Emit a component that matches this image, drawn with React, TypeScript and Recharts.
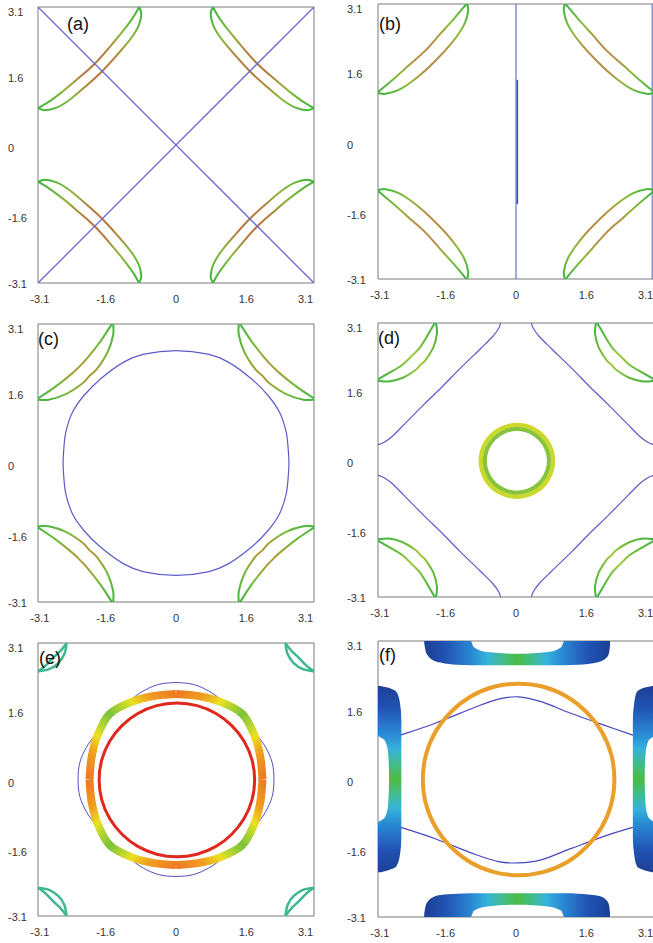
import React from 'react';
import { ComposedChart, Line, Area, XAxis, YAxis, ReferenceArea } from 'recharts';

type P = [number, number];

const PI = 3.1416;
const TICKS = [-3.1, -1.6, 0, 1.6, 3.1];
const PANEL_LABELS = ['(a)', '(b)', '(c)', '(d)', '(e)', '(f)'];
const FONT = '"Liberation Sans", Arial, Helvetica, sans-serif';

// ---------- (a) ----------
const A_DIAG_1: P[] = [[-PI, -PI], [0, 0], [PI, PI]];
const A_DIAG_2: P[] = [[-PI, PI], [0, 0], [PI, -PI]];
const A_LENS_UPPER: P[] = [[-3.14, 0.84], [-2.9, 0.98], [-2.59, 1.21], [-2.29, 1.46], [-1.85, 1.85], [-1.46, 2.29], [-1.21, 2.59], [-0.98, 2.9], [-0.84, 3.14]];
const A_LENS_LOWER: P[] = [[-3.14, 0.84], [-2.99, 0.79], [-2.72, 0.85], [-2.42, 1.03], [-2.04, 1.35], [-1.68, 1.68], [-1.35, 2.04], [-1.03, 2.42], [-0.85, 2.72], [-0.79, 2.99], [-0.84, 3.14]];

// ---------- (b) ----------
const B_LENS_UPPER: P[] = [[-3.14, 1.13], [-2.82, 1.4], [-2.44, 1.74], [-2.07, 2.07], [-1.74, 2.44], [-1.4, 2.82], [-1.13, 3.14]];
const B_LENS_LOWER: P[] = [[-3.14, 1.11], [-2.97, 1.09], [-2.67, 1.18], [-2.28, 1.44], [-1.84, 1.84], [-1.44, 2.28], [-1.18, 2.67], [-1.09, 2.97], [-1.11, 3.14]];
const B_VLINE: P[] = [[0, -PI], [0, PI]];
const B_VTHICK: P[] = [[0.03, -1.43], [0.03, 1.41]];
const B_EDGE: P[] = [[3.1, -PI], [3.1, PI]];

// ---------- (c) ----------
const C_LENS_UPPER: P[] = [[-3.14, 1.46], [-2.75, 1.72], [-2.37, 2.02], [-2.19, 2.19], [-2.02, 2.37], [-1.72, 2.75], [-1.46, 3.14]];
const C_LENS_LOWER: P[] = [[-3.14, 1.43], [-2.9, 1.43], [-2.52, 1.55], [-2.14, 1.79], [-1.97, 1.97], [-1.79, 2.14], [-1.55, 2.52], [-1.43, 2.9], [-1.43, 3.14]];
const C_BLUE_QUARTER: P[] = [[0, 2.54], [-0.73, 2.46], [-1.19, 2.28], [-1.72, 1.9], [-2.1, 1.52], [-2.36, 1.14], [-2.51, 0.69], [-2.56, 0.24], [-2.57, 0]];

// ---------- (d) ----------
const D_LENS_UPPER: P[] = [[-3.14, 1.85], [-2.9, 1.99], [-2.59, 2.18], [-2.38, 2.38], [-2.18, 2.59], [-1.99, 2.9], [-1.85, 3.14]];
const D_LENS_LOWER: P[] = [[-3.14, 1.82], [-2.9, 1.8], [-2.59, 1.88], [-2.28, 2.07], [-2.18, 2.18], [-2.07, 2.28], [-1.88, 2.59], [-1.8, 2.9], [-1.82, 3.14]];
const D_BLUE_CORNER: P[] = [[-3.14, 0.35], [-3.01, 0.4], [-2.82, 0.54], [-2.55, 0.81], [-2.1, 1.27], [-1.68, 1.68], [-1.27, 2.1], [-0.81, 2.55], [-0.54, 2.82], [-0.4, 3.01], [-0.35, 3.14]];
const D_RING_OUT_Q: P[] = [[0, 0.82], [-0.41, 0.71], [-0.71, 0.41], [-0.82, 0]];
const D_RING_IN_Q: P[] = [[0, 0.73], [-0.365, 0.63], [-0.63, 0.365], [-0.73, 0]];
const D_RING_CENTER: P = [0.02, -0.02];

// ---------- (e) ----------
const E_LENS_OUTER: P[] = [[-3.14, 2.49], [-2.89, 2.54], [-2.68, 2.68], [-2.54, 2.89], [-2.49, 3.14]];
const E_LENS_INNER: P[] = [[-3.14, 2.49], [-2.97, 2.62], [-2.8, 2.8], [-2.62, 2.97], [-2.49, 3.14]];
const E_BLUE_QUARTER: P[] = [[0, 2.23], [-0.39, 2.19], [-0.74, 2.04], [-1.05, 1.82], [-1.46, 1.46], [-1.82, 1.05], [-2.04, 0.74], [-2.19, 0.39], [-2.23, 0]];
const E_RING_QUARTER: P[] = [[0, 1.97], [-0.52, 1.92], [-1.03, 1.78], [-1.51, 1.51], [-1.78, 1.03], [-1.92, 0.52], [-1.97, 0]];
const E_RED_QUARTER: P[] = [[0, 1.77], [-0.46, 1.71], [-0.89, 1.53], [-1.25, 1.25], [-1.53, 0.89], [-1.71, 0.46], [-1.77, 0]];
const E_RED_CENTER: P = [0.02, -0.01];

// ---------- (f) ----------
const F_BLUE_UPPER: P[] = [[-2.62, 1.0], [-1.84, 1.27], [-0.92, 1.64], [-0.4, 1.82], [0.05, 1.87], [0.57, 1.76], [1.26, 1.49], [2.02, 1.22], [2.66, 1.0]];
const F_BLUE_LOWER: P[] = [[-2.62, -1.1], [-1.84, -1.36], [-0.92, -1.72], [-0.4, -1.88], [0.05, -1.91], [0.57, -1.84], [1.26, -1.58], [2.02, -1.3], [2.66, -1.1]];
const F_RING_QUARTER: P[] = [[0, 2.18], [-0.56, 2.11], [-1.09, 1.89], [-1.54, 1.54], [-1.89, 1.09], [-2.11, 0.56], [-2.18, 0]];
const F_RING_CENTER: P = [0.06, -0.01];
const F_X = [-2.09, -2.06, -2.0, -1.9, -1.72, -1.34, -1.03, -0.96, -0.65, 0.04, 0.72, 1.03, 1.1, 1.41, 1.87, 2.06, 2.12, 2.14];
const F_TOP_LO = [3.1, 2.92, 2.8, 2.71, 2.65, 2.6, 2.59, 2.59, 2.59, 2.59, 2.59, 2.59, 2.59, 2.6, 2.66, 2.76, 2.88, 3.05];
const F_TOP_HI = [PI, PI, PI, PI, PI, PI, PI, 3.0, 2.89, 2.85, 2.89, 3.0, PI, PI, PI, PI, PI, PI];
const F_BOT_LO = [-PI, -PI, -PI, -PI, -PI, -PI, -PI, -3.0, -2.9, -2.86, -2.9, -3.0, -PI, -PI, -PI, -PI, -PI, -PI];
const F_BOT_HI = [-3.08, -2.9, -2.78, -2.7, -2.64, -2.61, -2.6, -2.6, -2.6, -2.6, -2.6, -2.6, -2.6, -2.61, -2.66, -2.76, -2.88, -3.05];
const F_Y = [-2.12, -2.09, -2.04, -1.98, -1.72, -1.34, -1.0, -0.88, -0.58, 0.0, 0.58, 0.88, 1.0, 1.34, 1.72, 1.98, 2.04, 2.09, 2.12];
const F_LEFT_LO = [-PI, -PI, -PI, -PI, -PI, -PI, -PI, -2.99, -2.91, -2.89, -2.91, -2.99, -PI, -PI, -PI, -PI, -PI, -PI, -PI];
const F_LEFT_HI = [-3.08, -2.95, -2.8, -2.72, -2.64, -2.61, -2.61, -2.61, -2.61, -2.61, -2.61, -2.61, -2.61, -2.61, -2.64, -2.72, -2.8, -2.95, -3.08];
const F_RIGHT_LO = [3.1, 2.96, 2.82, 2.75, 2.69, 2.66, 2.66, 2.66, 2.66, 2.66, 2.66, 2.66, 2.66, 2.66, 2.69, 2.75, 2.82, 2.96, 3.1];
const F_RIGHT_HI = [PI, PI, PI, PI, PI, PI, PI, 3.02, 2.95, 2.93, 2.95, 3.02, PI, PI, PI, PI, PI, PI, PI];

// ---------- colours ----------
type Stop = [number, string];
const A_STOPS: Stop[] = [[0, '#3cb53c'], [0.22, '#8ab83c'], [0.4, '#b8783e'], [0.6, '#b8783e'], [0.78, '#8ab83c'], [1, '#3cb53c']];
const B_STOPS: Stop[] = [[0, '#3cb53c'], [0.22, '#8cbc3c'], [0.4, '#b88c44'], [0.6, '#b88c44'], [0.78, '#8cbc3c'], [1, '#3cb53c']];
const C_STOPS: Stop[] = [[0, '#3cb53c'], [0.25, '#7cb83a'], [0.45, '#a89c34'], [0.55, '#a89c34'], [0.75, '#7cb83a'], [1, '#3cb53c']];
const D_STOPS: Stop[] = [[0, '#3cb53c'], [0.3, '#70bc3c'], [0.5, '#a8c840'], [0.7, '#70bc3c'], [1, '#3cb53c']];
const E_RING_STOPS: Stop[] = [[0, '#ee7a24'], [0.18, '#f0a020'], [0.3, '#ece020'], [0.38, '#b8d630'], [0.5, '#7cc23c'], [0.62, '#b8d630'], [0.7, '#ece020'], [0.82, '#f0a020'], [1, '#ee7a24']];
const F_BLOB_STOPS: Stop[] = [[0, '#1c3f95'], [0.12, '#2154b4'], [0.26, '#2a8ad4'], [0.34, '#36b2dc'], [0.42, '#42bc8a'], [0.5, '#4cbb45'], [0.58, '#42bc8a'], [0.66, '#36b2dc'], [0.74, '#2a8ad4'], [0.88, '#2154b4'], [1, '#1c3f95']];
const BLUE = '#5c5cc8';
const DIAG_BLUE = '#6a6ad2';

// ---------- helpers ----------
const smooth = (closed: boolean) => (context: any) => {
  let pts: number[][] = [];
  return {
    areaStart() {},
    areaEnd() {},
    lineStart() { pts = []; },
    point(x: number, y: number) { pts.push([+x, +y]); },
    lineEnd() {
      const n = pts.length;
      if (!n) return;
      const at = (i: number) => (closed ? pts[((i % n) + n) % n] : pts[Math.max(0, Math.min(n - 1, i))]);
      context.moveTo(pts[0][0], pts[0][1]);
      const segs = closed ? n : n - 1;
      for (let i = 0; i < segs; i++) {
        const p0 = at(i - 1), p1 = at(i), p2 = at(i + 1), p3 = at(i + 2);
        context.bezierCurveTo(
          p1[0] + (p2[0] - p0[0]) / 6, p1[1] + (p2[1] - p0[1]) / 6,
          p2[0] - (p3[0] - p1[0]) / 6, p2[1] - (p3[1] - p1[1]) / 6,
          p2[0], p2[1]
        );
      }
      if (closed) context.closePath();
    },
  };
};
const OPEN = smooth(false);
const CLOSED = smooth(true);

const toPts = (a: P[]) => a.map(([x, y]) => ({ x, y }));
const flip = (a: P[], sx: number, sy: number): P[] => a.map(([x, y]) => [x * sx, y * sy] as P);
const loop = (q: P[], c: P = [0, 0]): P[] => {
  const sw = [...q].reverse().map(([x, y]) => [x, -y] as P);
  const se = q.map(([x, y]) => [-x, -y] as P);
  const ne = [...q].reverse().map(([x, y]) => [-x, y] as P);
  return [...q, ...sw.slice(1), ...se.slice(1), ...ne.slice(1, -1)].map(([x, y]) => [x + c[0], y + c[1]] as P);
};
const CORNERS = [
  { sx: 1, sy: 1, anti: true },
  { sx: -1, sy: 1, anti: false },
  { sx: 1, sy: -1, anti: false },
  { sx: -1, sy: -1, anti: true },
];

const curve = (key: string, a: P[], stroke: string, width: number, kind: 'open' | 'closed' | 'linear' = 'open') => (
  <Line
    key={key}
    data={toPts(a)}
    dataKey="y"
    type={kind === 'linear' ? 'linear' : kind === 'closed' ? CLOSED : OPEN}
    stroke={stroke}
    strokeWidth={width}
    dot={false}
    activeDot={false}
    legendType="none"
    isAnimationActive={false}
  />
);

const lenses = (p: string, curves: P[][], width: number, color?: string) =>
  CORNERS.flatMap((c, ci) =>
    curves.map((cv, k) => curve(`${p}-l${ci}-${k}`, flip(cv, c.sx, c.sy), color || `url(#${p}-${c.anti ? 'anti' : 'main'})`, width))
  );

const grad = (id: string, x1: number, y1: number, x2: number, y2: number, stops: Stop[]) => (
  <linearGradient id={id} key={id} x1={x1} y1={y1} x2={x2} y2={y2}>
    {stops.map(([o, c], i) => <stop key={i} offset={o} stopColor={c} />)}
  </linearGradient>
);
const diagGrads = (p: string, stops: Stop[]) => [grad(`${p}-anti`, 1, 0, 0, 1, stops), grad(`${p}-main`, 0, 0, 1, 1, stops)];

const xTick = (p: any) => {
  const v = p.payload.value;
  const last = v === TICKS[TICKS.length - 1];
  return (
    <text x={last ? p.x + 1 : p.x} y={p.y + 12} textAnchor={last ? 'end' : 'middle'} fontSize={11} fill="#333" fontFamily={FONT}>
      {String(v)}
    </text>
  );
};
const yTick = (x0: number) => (p: any) => (
  <text x={x0} y={p.y + 7} textAnchor="start" fontSize={11} fill="#333" fontFamily={FONT}>
    {String(p.payload.value)}
  </text>
);

const axes = (right: boolean, hidden = false, vertical = false) => [
  <XAxis key="xa" type="number" dataKey={vertical ? undefined : 'x'} domain={[-PI, PI]} allowDataOverflow ticks={TICKS} interval={0} tickLine={false} axisLine={false} height={25} tick={hidden ? false : xTick} />,
  <YAxis key="ya" type="number" dataKey={vertical ? 'y' : undefined} domain={[-PI, PI]} allowDataOverflow ticks={TICKS} interval={0} tickLine={false} axisLine={false} width={38} tick={hidden ? false : yTick(right ? 7 : 8)} />,
];
const frame = <ReferenceArea key="frame" x1={-PI} x2={PI} y1={-PI} y2={PI} fill="none" fillOpacity={0} stroke="#7a7a7a" strokeWidth={1} ifOverflow="visible" />;

function Panel(props: { left: number; top: number; mt: number; plotH: number; right: boolean; data?: any[]; vertical?: boolean; children: React.ReactNode }) {
  const { left, top, mt, plotH, right, data, vertical, children } = props;
  return (
    <div style={{ position: 'absolute', left, top }}>
      <ComposedChart
        width={right ? 315 : 316}
        height={mt + plotH + 25}
        data={data || []}
        layout={vertical ? 'vertical' : 'horizontal'}
        margin={{ top: mt, right: right ? 1 : 2, bottom: 0, left: 0 }}
      >
        {children}
      </ComposedChart>
    </div>
  );
}

const F_TB_DATA = F_X.map((x, i) => ({ x, top: [F_TOP_LO[i], F_TOP_HI[i]], bot: [F_BOT_LO[i], F_BOT_HI[i]] }));
const F_SIDE_DATA = F_Y.map((y, i) => ({ y, left: [F_LEFT_LO[i], F_LEFT_HI[i]], right: [F_RIGHT_LO[i], F_RIGHT_HI[i]] }));

const LABEL_POS = [
  [67, 15], [379, 15], [38, 330], [378, 329], [39, 649], [379, 646],
];

export default function App() {
  return (
    <div style={{ position: 'absolute', left: 0, top: 0, width: 653, height: 943, overflow: 'hidden', background: '#fff' }}>
      {/* (a) */}
      <Panel left={0} top={0} mt={7} plotH={276} right={false}>
        <defs>{diagGrads('a', A_STOPS)}</defs>
        {axes(false)}
        {frame}
        {lenses('a', [A_LENS_UPPER, A_LENS_LOWER], 2)}
        {curve('a-diag-up', A_DIAG_1, DIAG_BLUE, 1.3, 'linear')}
        {curve('a-diag-down', A_DIAG_2, DIAG_BLUE, 1.3, 'linear')}
      </Panel>

      {/* (b) */}
      <Panel left={340} top={0} mt={4} plotH={275} right>
        <defs>{diagGrads('b', B_STOPS)}</defs>
        {axes(true)}
        {frame}
        {curve('b-v', B_VLINE, '#4455c0', 1, 'linear')}
        {curve('b-vt', B_VTHICK, '#3a4cc0', 1.6, 'linear')}
        {curve('b-e', B_EDGE, '#6a7ad0', 1.2, 'linear')}
        {lenses('b', [B_LENS_UPPER, B_LENS_LOWER], 2)}
      </Panel>

      {/* (c) */}
      <Panel left={0} top={317} mt={7} plotH={278} right={false}>
        <defs>{diagGrads('c', C_STOPS)}</defs>
        {axes(false)}
        {frame}
        {curve('c-blue', loop(C_BLUE_QUARTER), BLUE, 1.2, 'closed')}
        {lenses('c', [C_LENS_UPPER, C_LENS_LOWER], 2)}
      </Panel>

      {/* (d) */}
      <Panel left={340} top={317} mt={6} plotH={274} right>
        <defs>{diagGrads('d', D_STOPS)}</defs>
        {axes(true)}
        {frame}
        {CORNERS.map((c, i) => curve(`d-b${i}`, flip(D_BLUE_CORNER, c.sx, c.sy), BLUE, 1.2))}
        {lenses('d', [D_LENS_UPPER, D_LENS_LOWER], 2)}
        {curve('d-ro', loop(D_RING_OUT_Q, D_RING_CENTER), '#ccd82c', 4.5, 'closed')}
        {curve('d-ri', loop(D_RING_IN_Q, D_RING_CENTER), '#86c43e', 4, 'closed')}
      </Panel>

      {/* (e) */}
      <Panel left={0} top={636} mt={7} plotH={273} right={false}>
        <defs>{diagGrads('e', E_RING_STOPS)}</defs>
        {axes(false)}
        {frame}
        {curve('e-blue', loop(E_BLUE_QUARTER), '#5050c4', 1, 'closed')}
        {CORNERS.map((c, i) => curve(`e-r${i}`, flip(E_RING_QUARTER, c.sx, c.sy), `url(#e-${c.anti ? 'anti' : 'main'})`, 8))}
        {curve('e-red', loop(E_RED_QUARTER, E_RED_CENTER), '#e0281e', 3, 'closed')}
        {lenses('e', [E_LENS_OUTER, E_LENS_INNER], 2.5, '#3db893')}
      </Panel>

      {/* (f) */}
      <Panel left={340} top={636} mt={5} plotH={276} right data={F_TB_DATA}>
        <defs>{grad('f-h', 0, 0, 1, 0, F_BLOB_STOPS)}</defs>
        {axes(true)}
        {frame}
        {curve('f-bu', F_BLUE_UPPER, '#4848c0', 1.2)}
        {curve('f-bl', F_BLUE_LOWER, '#4848c0', 1.2)}
        <Area key="f-top" dataKey="top" type="monotone" stroke="none" fill="url(#f-h)" fillOpacity={1} dot={false} activeDot={false} legendType="none" isAnimationActive={false} />
        <Area key="f-bot" dataKey="bot" type="monotone" stroke="none" fill="url(#f-h)" fillOpacity={1} dot={false} activeDot={false} legendType="none" isAnimationActive={false} />
        {curve('f-ring', loop(F_RING_QUARTER, F_RING_CENTER), '#e99f2a', 4, 'closed')}
      </Panel>
      <Panel left={340} top={636} mt={5} plotH={276} right data={F_SIDE_DATA} vertical>
        <defs>{grad('f-v', 0, 0, 0, 1, F_BLOB_STOPS)}</defs>
        {axes(true, true, true)}
        <Area key="f-left" dataKey="left" type="monotone" stroke="none" fill="url(#f-v)" fillOpacity={1} dot={false} activeDot={false} legendType="none" isAnimationActive={false} />
        <Area key="f-right" dataKey="right" type="monotone" stroke="none" fill="url(#f-v)" fillOpacity={1} dot={false} activeDot={false} legendType="none" isAnimationActive={false} />
      </Panel>

      {PANEL_LABELS.map((t, i) => (
        <div key={t} style={{ position: 'absolute', left: LABEL_POS[i][0], top: LABEL_POS[i][1], fontFamily: FONT, fontSize: 18, lineHeight: '18px', color: '#111' }}>
          {t}
        </div>
      ))}
    </div>
  );
}
